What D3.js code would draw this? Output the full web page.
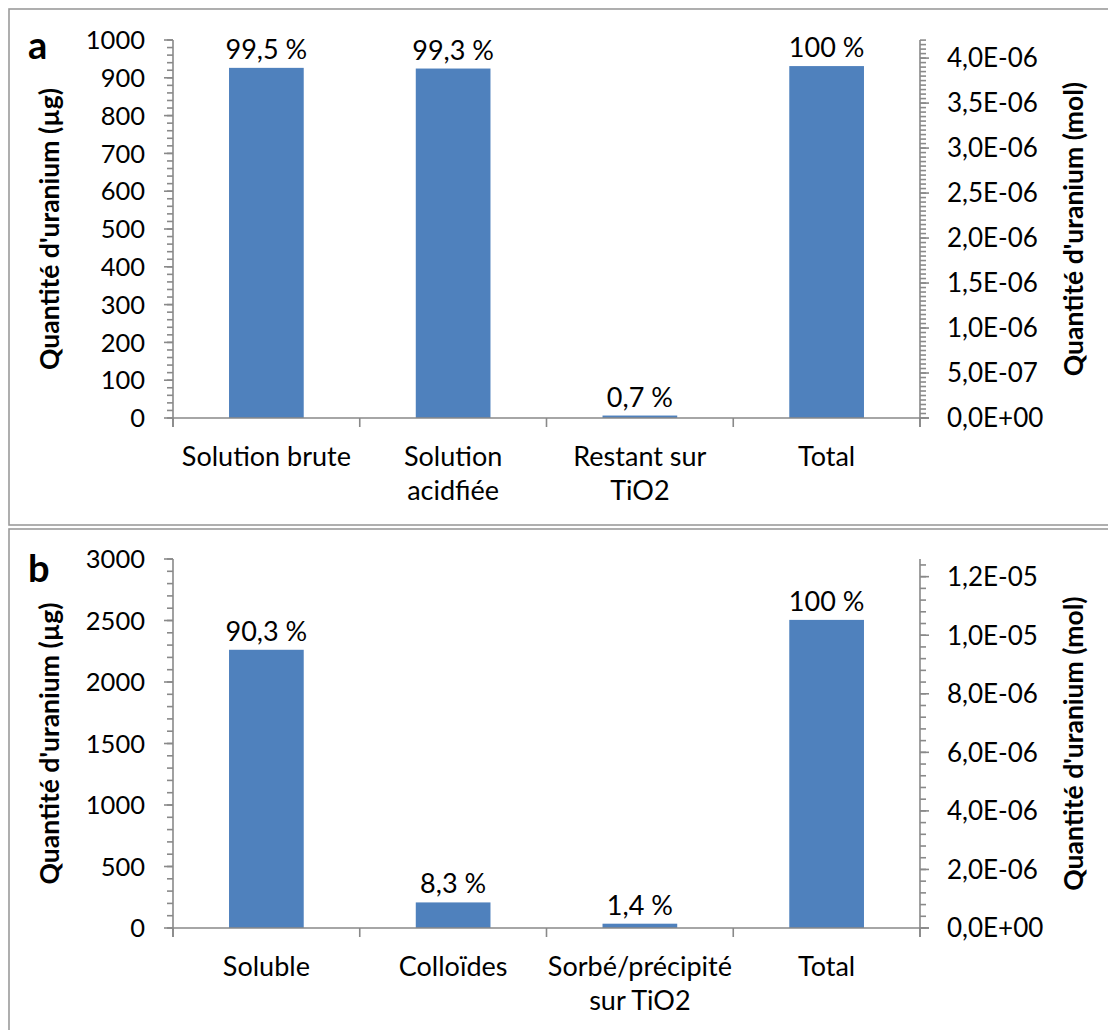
<!DOCTYPE html>
<html>
<head>
<meta charset="utf-8">
<script src="https://cdn.jsdelivr.net/npm/d3@7"></script>
<style>
  html, body { margin: 0; padding: 0; background: #fff; }
  svg { display: block; }
  text { font-family: Lato, "Open Sans", sans-serif; fill: #000; }
</style>
</head>
<body>
<svg id="chart" width="1108" height="1030"></svg>
<script>
// Uranium balance, panel a: quantities in µg (left axis), mol on the right axis
const categoriesA = [["Solution brute"], ["Solution", "acidfiée"], ["Restant sur", "TiO2"], ["Total"]];
const valuesA = [926.3, 924.5, 6.5, 931];
const percentLabelsA = ["99,5 %", "99,3 %", "0,7 %", "100 %"];
const leftTicksA = [0, 100, 200, 300, 400, 500, 600, 700, 800, 900, 1000];
const rightTicksA = [0, 5e-7, 1e-6, 1.5e-6, 2e-6, 2.5e-6, 3e-6, 3.5e-6, 4e-6];

// Panel b: soluble / colloidal / sorbed fractions
const categoriesB = [["Soluble"], ["Colloïdes"], ["Sorbé/précipité", "sur TiO2"], ["Total"]];
const valuesB = [2262, 208, 35, 2505];
const percentLabelsB = ["90,3 %", "8,3 %", "1,4 %", "100 %"];
const leftTicksB = [0, 500, 1000, 1500, 2000, 2500, 3000];
const rightTicksB = [0, 2e-6, 4e-6, 6e-6, 8e-6, 1e-5, 1.2e-5];

const MOLAR_MASS_U = 238.03; // g/mol
const AXIS_COLOR = "#898989";
const BAR_COLOR = "#4F81BD";

const svg = d3.select("#chart");

// "4,0E-06" style scientific labels
function sciLabel(v) {
  if (v === 0) return "0,0E+00";
  const exp = Math.floor(Math.log10(Math.abs(v)) + 1e-9);
  const mant = v / Math.pow(10, exp);
  const sign = exp < 0 ? "-" : "+";
  return mant.toFixed(1).replace(".", ",") + "E" + sign + String(Math.abs(exp)).padStart(2, "0");
}

function drawPanel(cfg) {
  const g = svg.append("g");

  // panel frame
  g.append("rect")
    .attr("x", cfg.frame[0]).attr("y", cfg.frame[1])
    .attr("width", cfg.frame[2]).attr("height", cfg.frame[3])
    .attr("fill", "none").attr("stroke", "#9b9b9b").attr("stroke-width", 1.6);

  const x0 = 173, x1 = 920;
  const y = d3.scaleLinear().domain([0, cfg.max]).range([cfg.bottom, cfg.top]);
  const yR = d3.scaleLinear().domain([0, cfg.max * 1e-6 / MOLAR_MASS_U]).range([cfg.bottom, cfg.top]);
  const x = d3.scaleBand().domain(d3.range(cfg.values.length)).range([x0, x1])
    .paddingInner(0.6).paddingOuter(0.3);
  const step = x.step();

  // bars
  g.selectAll("rect.bar").data(cfg.values).join("rect")
    .attr("class", "bar")
    .attr("x", (d, i) => x(i)).attr("width", x.bandwidth())
    .attr("y", d => y(d)).attr("height", d => cfg.bottom - y(d))
    .attr("fill", BAR_COLOR);

  // value labels
  g.selectAll("text.val").data(cfg.values).join("text")
    .attr("class", "val")
    .attr("x", (d, i) => x(i) + x.bandwidth() / 2)
    .attr("y", d => y(d) - 9)
    .attr("text-anchor", "middle").attr("font-size", 27)
    .text((d, i) => cfg.labels[i]);

  // left axis: minor then major ticks
  const leftMinor = d3.range(0, cfg.max + 1e-9, cfg.leftMinor);
  const axL = g.append("g").attr("stroke", AXIS_COLOR).attr("stroke-width", 1.6);
  axL.append("line").attr("x1", x0).attr("x2", x0).attr("y1", cfg.top).attr("y2", cfg.bottom + 9);
  axL.selectAll("line.mi").data(leftMinor).join("line").attr("class", "mi")
    .attr("x1", x0 - 6).attr("x2", x0).attr("y1", d => y(d)).attr("y2", d => y(d));
  axL.selectAll("line.ma").data(cfg.leftTicks).join("line").attr("class", "ma")
    .attr("x1", x0 - 9).attr("x2", x0).attr("y1", d => y(d)).attr("y2", d => y(d));
  g.selectAll("text.lt").data(cfg.leftTicks).join("text").attr("class", "lt")
    .attr("x", x0 - 28).attr("y", d => y(d)).attr("dy", "0.36em")
    .attr("text-anchor", "end").attr("font-size", 25.5)
    .text(d => d);

  // right axis (mol)
  const rMax = cfg.max * 1e-6 / MOLAR_MASS_U;
  const nMinor = Math.floor(rMax / cfg.rightMinor + 1e-6);
  const rightMinor = d3.range(0, nMinor + 1).map(i => i * cfg.rightMinor);
  const axR = g.append("g").attr("stroke", AXIS_COLOR).attr("stroke-width", 1.6);
  axR.append("line").attr("x1", x1).attr("x2", x1).attr("y1", cfg.top).attr("y2", cfg.bottom + 9);
  axR.selectAll("line.mi").data(rightMinor).join("line").attr("class", "mi")
    .attr("x1", x1).attr("x2", x1 + 6).attr("y1", d => yR(d)).attr("y2", d => yR(d));
  axR.selectAll("line.ma").data(cfg.rightTicks).join("line").attr("class", "ma")
    .attr("x1", x1).attr("x2", x1 + 9).attr("y1", d => yR(d)).attr("y2", d => yR(d));
  g.selectAll("text.rt").data(cfg.rightTicks).join("text").attr("class", "rt")
    .attr("x", x1 + 27).attr("y", d => yR(d)).attr("dy", "0.36em")
    .attr("text-anchor", "start").attr("font-size", 26)
    .text(d => sciLabel(d));

  // category axis
  const axX = g.append("g").attr("stroke", AXIS_COLOR).attr("stroke-width", 1.6);
  axX.append("line").attr("x1", x0).attr("x2", x1 + 9).attr("y1", cfg.bottom).attr("y2", cfg.bottom);
  axX.selectAll("line.ct").data(d3.range(cfg.values.length + 1)).join("line").attr("class", "ct")
    .attr("x1", i => x0 + i * step).attr("x2", i => x0 + i * step)
    .attr("y1", cfg.bottom).attr("y2", cfg.bottom + 9);

  const cat = g.selectAll("text.cat").data(cfg.categories).join("text").attr("class", "cat")
    .attr("text-anchor", "middle").attr("font-size", 27);
  cat.each(function (lines, i) {
    d3.select(this).selectAll("tspan").data(lines).join("tspan")
      .attr("x", x(i) + x.bandwidth() / 2)
      .attr("y", (l, j) => cfg.bottom + 48 + j * 34)
      .text(l => l);
  });

  // axis titles
  const midY = (cfg.top + cfg.bottom) / 2;
  g.append("text")
    .attr("transform", `translate(59,${midY}) rotate(-90)`)
    .attr("text-anchor", "middle").attr("font-size", 26.5).attr("font-weight", "bold")
    .text("Quantité d'uranium (µg)");
  g.append("text")
    .attr("transform", `translate(1083,${midY}) rotate(-90)`)
    .attr("text-anchor", "middle").attr("font-size", 26.5).attr("font-weight", "bold")
    .text("Quantité d'uranium (mol)");

  // panel letter
  g.append("text")
    .attr("x", 28).attr("y", cfg.letterY)
    .attr("font-size", 38).attr("font-weight", "bold")
    .text(cfg.letter);
}

drawPanel({
  frame: [9, 9, 1110, 516], top: 40, bottom: 418, max: 1000,
  values: valuesA, labels: percentLabelsA, categories: categoriesA,
  leftTicks: leftTicksA, leftMinor: 20, rightTicks: rightTicksA, rightMinor: 5e-8,
  letter: "a", letterY: 59
});

drawPanel({
  frame: [9, 529, 1110, 520], top: 559, bottom: 928, max: 3000,
  values: valuesB, labels: percentLabelsB, categories: categoriesB,
  leftTicks: leftTicksB, leftMinor: 100, rightTicks: rightTicksB, rightMinor: 4e-7,
  letter: "b", letterY: 582
});
</script>
</body>
</html>
